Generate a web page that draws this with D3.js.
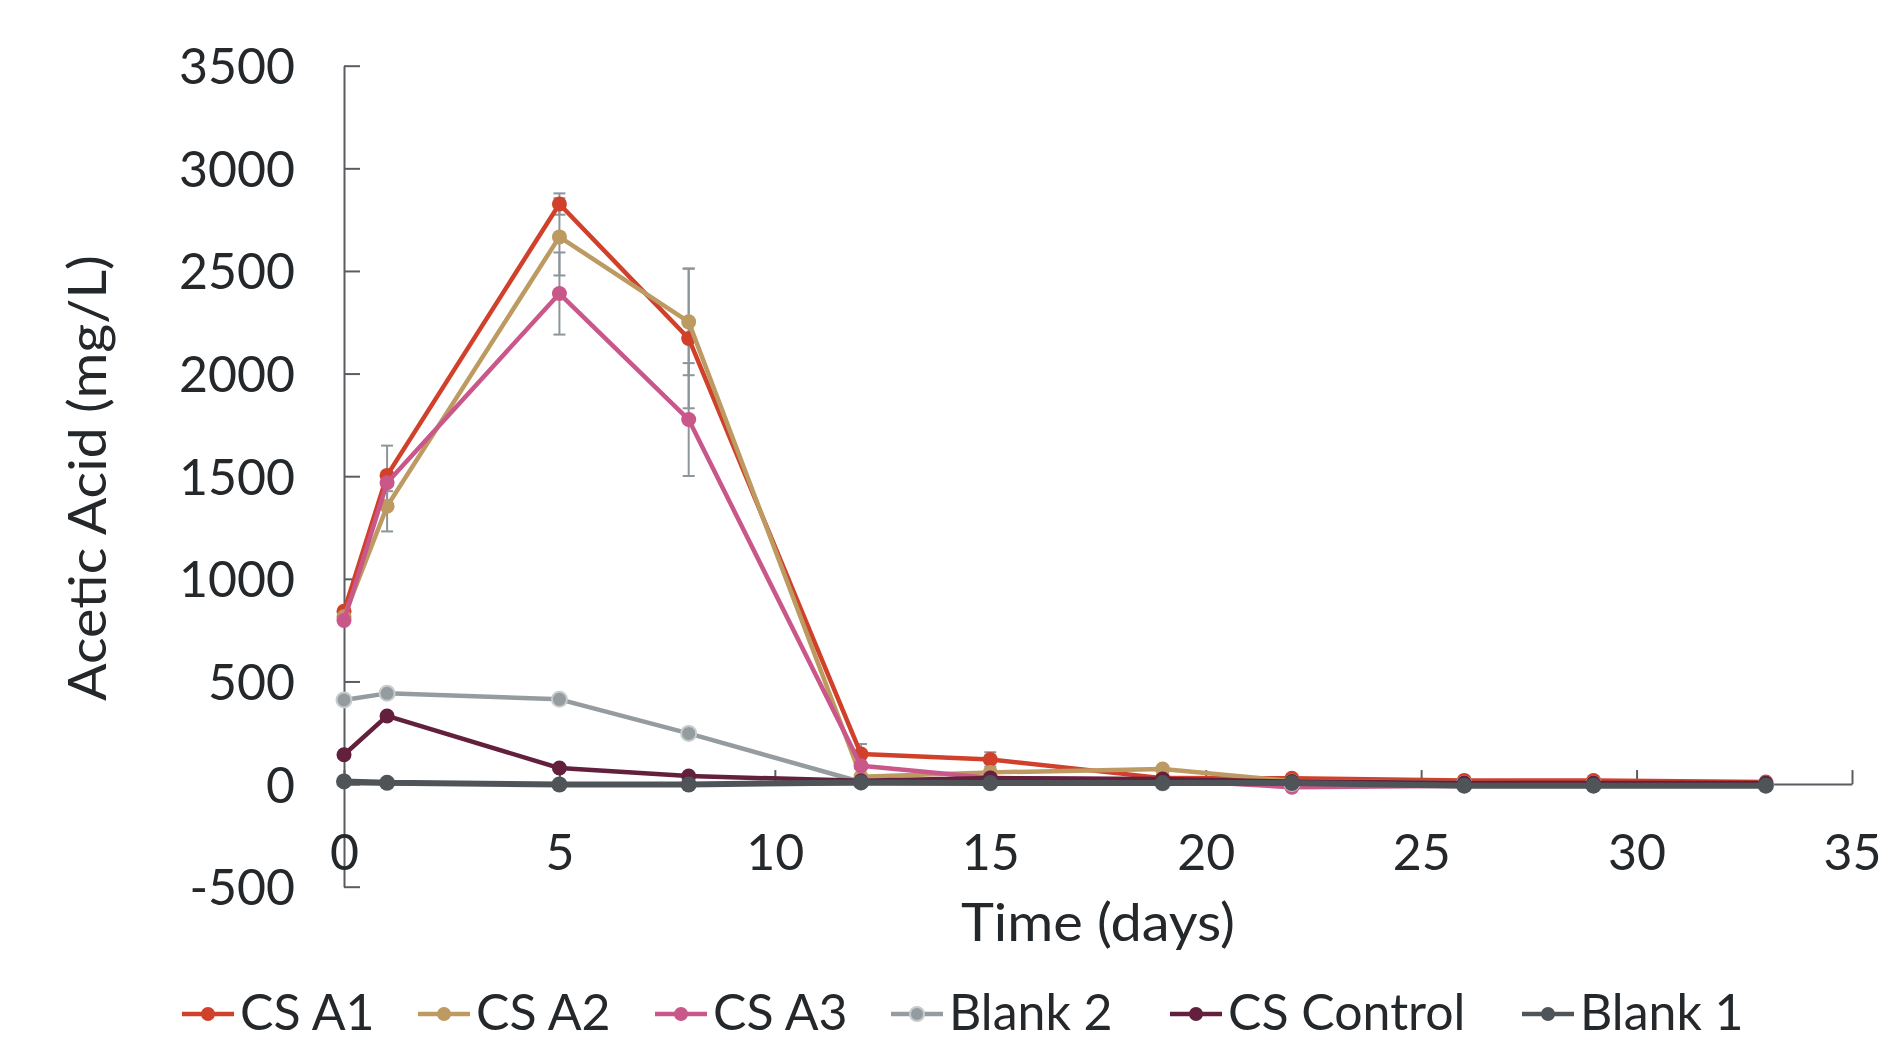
<!DOCTYPE html>
<html>
<head>
<meta charset="utf-8">
<script src="https://cdn.jsdelivr.net/npm/d3@7"></script>
<style>
  body { margin: 0; background: #ffffff; }
  svg text { font-family: Lato, "Open Sans", sans-serif; fill: #25282b; }
</style>
</head>
<body>
<div id="chart"></div>
<script>
// sampling days
var days = [0, 1, 5, 8, 12, 15, 19, 22, 26, 29, 33];

// acetic acid (mg/L) per series
var csA1 = [842, 1504, 2826, 2171, 146, 120, 29, 28, 18, 17, 10];
var csA2 = [815, 1354, 2666, 2252, 36, 57, 73, 15, 5, 4, 3];
var csA3 = [797, 1468, 2390, 1776, 89, 30, 20, -15, -8, -8, -8];
var blank2 = [410, 442, 413, 247, 10, 5, 5, 3, 0, 0, 0];
var csControl = [143, 332, 78, 39, 16, 29, 25, 12, 5, 5, 5];
var blank1 = [13, 6, -2, -2, 8, 5, 5, 5, -8, -8, -8];

// standard deviation (error bars)
var csA1Err = [0, 145, 52, 340, 49, 35, 0, 0, 0, 0, 0];
var csA2Err = [0, 123, 188, 260, 0, 0, 0, 0, 0, 0, 0];
var csA3Err = [0, 41, 200, 275, 0, 0, 0, 0, 0, 0, 0];

var seriesNames = ["CS A1", "CS A2", "CS A3", "Blank 2", "CS Control", "Blank 1"];
var seriesColors = ["#d1402a", "#bd9a62", "#c9578a", "#949ca0", "#63203d", "#4f5459"];

var yTicks = [-500, 0, 500, 1000, 1500, 2000, 2500, 3000, 3500];
var xTicks = [0, 5, 10, 15, 20, 25, 30, 35];

var width = 1902, height = 1043;
var axisColor = "#595d61";
var errColor = "#8c959a";
var legendX = [182, 418, 655, 891, 1170, 1522];

var series = [
    {name: seriesNames[0], values: csA1, err: csA1Err},
    {name: seriesNames[1], values: csA2, err: csA2Err},
    {name: seriesNames[2], values: csA3, err: csA3Err},
    {name: seriesNames[3], values: blank2, err: null},
    {name: seriesNames[4], values: csControl, err: null},
    {name: seriesNames[5], values: blank1, err: null}
];

var svg = d3.select("#chart").append("svg")
    .attr("width", width)
    .attr("height", height);

var xScale = d3.scaleLinear().domain([0, 35]).range([344, 1852]);
var yScale = d3.scaleLinear().domain([-500, 3500]).range([886.7, 65.7]);

// y axis, ticks pointing inward
var yAxis = svg.append("g")
    .attr("transform", "translate(" + xScale(0) + ",0)")
    .call(d3.axisLeft(yScale).tickValues(yTicks).tickFormat(function(d) { return String(d); })
        .tickSize(-16).tickSizeOuter(0).tickPadding(49));
yAxis.select(".domain").attr("stroke", axisColor).attr("stroke-width", 2);
yAxis.selectAll(".tick line").attr("stroke", axisColor).attr("stroke-width", 2);
yAxis.selectAll(".tick text")
    .attr("font-size", "50px")
    .attr("fill", "#25282b")
    .attr("dy", "0.36em");

// x axis sits on zero, labels pushed below
var xAxis = svg.append("g")
    .attr("transform", "translate(0," + yScale(0) + ")")
    .call(d3.axisBottom(xScale).tickValues(xTicks).tickFormat(function(d) { return String(d); })
        .tickSize(-14).tickSizeOuter(0).tickPadding(50));
xAxis.select(".domain").attr("stroke", axisColor).attr("stroke-width", 2);
xAxis.selectAll(".tick line").attr("stroke", axisColor).attr("stroke-width", 2);
xAxis.selectAll(".tick text")
    .attr("font-size", "50px")
    .attr("fill", "#25282b");

// axis titles
svg.append("text")
    .attr("transform", "translate(106,478) rotate(-90)")
    .attr("text-anchor", "middle")
    .attr("font-size", "52px")
    .attr("textLength", 446)
    .attr("lengthAdjust", "spacingAndGlyphs")
    .text("Acetic Acid (mg/L)");

svg.append("text")
    .attr("x", (xScale(0) + xScale(35)) / 2)
    .attr("y", 941)
    .attr("text-anchor", "middle")
    .attr("font-size", "52px")
    .attr("textLength", 274)
    .attr("lengthAdjust", "spacingAndGlyphs")
    .text("Time (days)");

// error bars behind the lines
series.forEach(function(s) {
    if (!s.err) return;
    var g = svg.append("g");
    days.forEach(function(d, i) {
        var e = s.err[i];
        if (!e) return;
        var cx = xScale(d);
        g.append("line")
            .attr("x1", cx).attr("x2", cx)
            .attr("y1", yScale(s.values[i] + e))
            .attr("y2", yScale(s.values[i] - e))
            .attr("stroke", errColor).attr("stroke-width", 2);
        [s.values[i] + e, s.values[i] - e].forEach(function(v) {
            g.append("line")
                .attr("x1", cx - 6).attr("x2", cx + 6)
                .attr("y1", yScale(v)).attr("y2", yScale(v))
                .attr("stroke", errColor).attr("stroke-width", 2);
        });
    });
});

var line = d3.line()
    .x(function(d) { return xScale(d[0]); })
    .y(function(d) { return yScale(d[1]); });

series.forEach(function(s, k) {
    var pts = days.map(function(d, i) { return [d, s.values[i]]; });
    var lw = (k == 5) ? 6 : 4.5;
    svg.append("path")
        .datum(pts)
        .attr("d", line)
        .attr("fill", "none")
        .attr("stroke", seriesColors[k])
        .attr("stroke-width", lw)
        .attr("stroke-linejoin", "round");
    svg.append("g").selectAll("circle").data(pts).enter()
        .append("circle")
        .attr("cx", function(d) { return xScale(d[0]); })
        .attr("cy", function(d) { return yScale(d[1]); })
        .attr("r", (k == 5) ? 8 : 7.5)
        .attr("fill", seriesColors[k])
        .attr("stroke", (k == 3) ? "#c6cbce" : "none")
        .attr("stroke-width", 2);
});

// legend along the bottom
var legendY = 1014;
series.forEach(function(s, k) {
    var lx = legendX[k];
    var g = svg.append("g");
    g.append("line")
        .attr("x1", lx).attr("x2", lx + 52)
        .attr("y1", legendY).attr("y2", legendY)
        .attr("stroke", seriesColors[k])
        .attr("stroke-width", 4.5);
    g.append("circle")
        .attr("cx", lx + 26).attr("cy", legendY)
        .attr("r", 7)
        .attr("fill", seriesColors[k])
        .attr("stroke", (k == 3) ? "#c6cbce" : "none")
        .attr("stroke-width", 2);
    g.append("text")
        .attr("x", lx + 58)
        .attr("y", 1030)
        .attr("font-size", "50px")
        .text(s.name);
});
</script>
</body>
</html>
